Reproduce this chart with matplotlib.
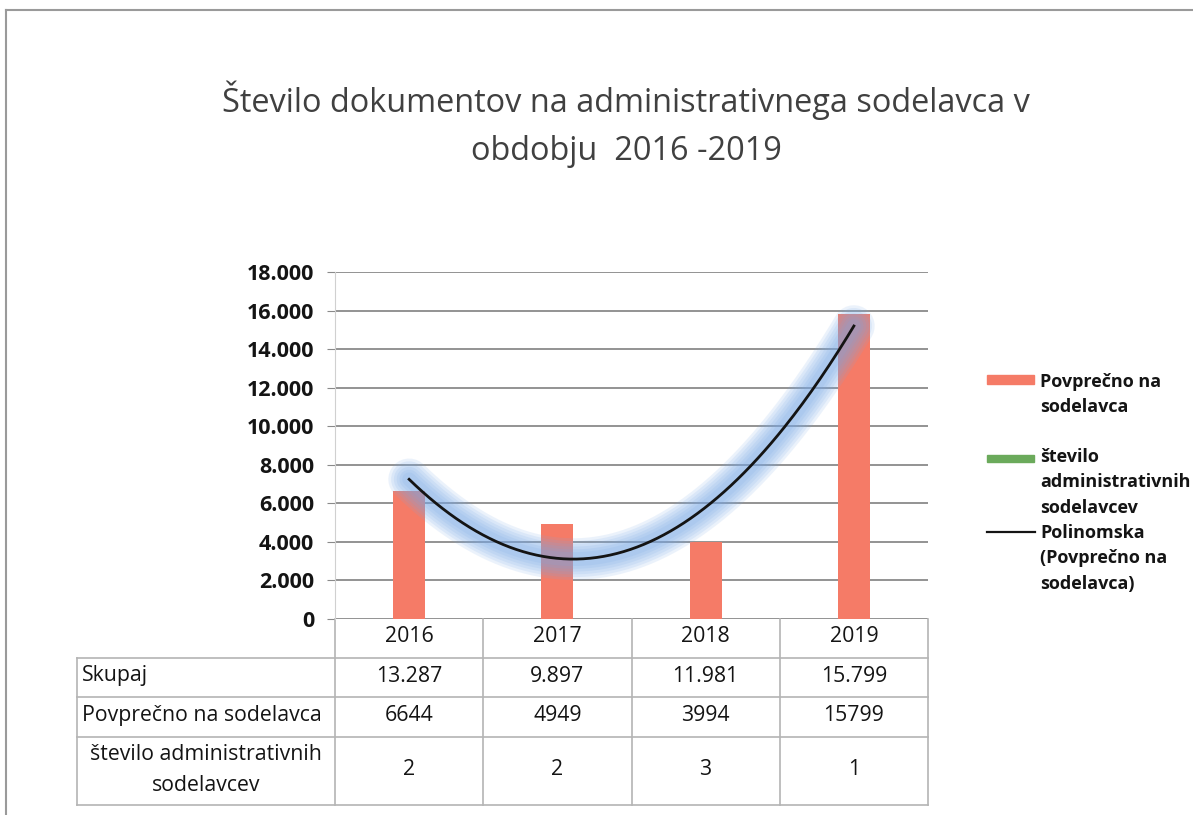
import numpy as np
import matplotlib
matplotlib.use("Agg")
import matplotlib.pyplot as plt
import matplotlib.transforms as mtransforms
from matplotlib.lines import Line2D
from matplotlib.patches import Rectangle

plt.rcParams['font.family'] = ['Open Sans', 'DejaVu Sans']

# data
years = ['2016', '2017', '2018', '2019']
skupaj = ['13.287', '9.897', '11.981', '15.799']
povprecno = [6644, 4949, 3994, 15799]
stevilo = [2, 2, 3, 1]
row_labels = ['Skupaj', 'Povprečno na sodelavca', 'število administrativnih', 'sodelavcev']
legend_1 = ['Povprečno na', 'sodelavca']
legend_2 = ['število', 'administrativnih', 'sodelavcev']
legend_3 = ['Polinomska', '(Povprečno na', 'sodelavca)']
title_lines = ['Število dokumentov na administrativnega sodelavca v', 'obdobju  2016 -2019']

salmon = '#F57B67'
green = '#6BAA5B'
grid_col = '#8a8a8a'
table_col = '#b4b4b4'
txt = '#141414'

W, H = 1193, 815
fig = plt.figure(figsize=(W / 100, H / 100), dpi=100)
ax = fig.add_axes([335 / W, 1 - 619 / H, 593 / W, 347 / H])


def fy(py):
    # pixel row -> figure fraction
    return 1 - py / H


x = np.arange(len(years))
bw = 0.215
ax.bar(x, povprecno, width=bw, color=salmon, zorder=2)
ax.bar(x + bw, stevilo, width=bw, color=green, zorder=2)

# polynomial trendline (order 2) with soft blue glow
coef = np.polyfit(x, povprecno, 2)
xs = np.linspace(0, 3, 200)
ys = np.polyval(coef, xs)
for lw in [30, 26, 22, 18, 14, 10]:
    ax.plot(xs, ys, color='#78a9e6', lw=lw, alpha=0.14, solid_capstyle='round', zorder=3)
ax.plot(xs, ys, color=txt, lw=2, zorder=4)

ax.set_xlim(-0.5, 3.5)
ax.set_ylim(0, 18000)
ticks = np.arange(0, 18001, 2000)
ax.set_yticks(ticks)
ax.set_yticklabels([f"{v:,.0f}".replace(',', '.') for v in ticks],
                   fontsize=15.5, fontweight='bold', color=txt)
ax.tick_params(axis='y', length=6, color=grid_col, pad=9)
ax.set_xticks([])
ax.grid(axis='y', color=grid_col, lw=1.3, zorder=0)
ax.set_axisbelow(True)
for s in ['top', 'right', 'bottom']:
    ax.spines[s].set_visible(False)
ax.spines['left'].set_color('#d0d0d0')


# data table under the plot
def ry(py):
    return (619 - py) / 347


trans = mtransforms.blended_transform_factory(ax.transData, ax.transAxes)
x_left = -0.5 + (77 - 335) / 593 * 4
lk = dict(transform=trans, color=table_col, lw=1.2, clip_on=False)
for b in np.arange(-0.5, 4, 1.0):
    ax.plot([b, b], [ry(619), ry(805)], **lk)
ax.plot([x_left, x_left], [ry(658), ry(805)], **lk)
for py in [658, 697, 737, 805]:
    ax.plot([x_left, 3.5], [ry(py), ry(py)], **lk)

tk = dict(transform=trans, fontsize=15.3, color=txt, ha='center', va='center')
for i, yr in enumerate(years):
    ax.text(i, ry(637), yr, **tk)
    ax.text(i, ry(676), skupaj[i], **tk)
    ax.text(i, ry(716), str(povprecno[i]), **tk)
    ax.text(i, ry(770), str(stevilo[i]), **tk)
lab = dict(transform=trans, fontsize=15.3, color=txt, va='center')
ax.text(x_left + 0.035, ry(676), row_labels[0], ha='left', **lab)
ax.text(x_left + 0.035, ry(716), row_labels[1], ha='left', **lab)
ax.text((x_left - 0.5) / 2, ry(755), row_labels[2], ha='center', **lab)
ax.text((x_left - 0.5) / 2, ry(786), row_labels[3], ha='center', **lab)

# legend
fig.patches.append(Rectangle((987 / W, fy(384)), 47 / W, 9 / H, color=salmon,
                             transform=fig.transFigure))
fig.patches.append(Rectangle((987 / W, fy(462)), 47 / W, 7 / H, color=green,
                             transform=fig.transFigure))
fig.add_artist(Line2D([987 / W, 1035 / W], [fy(532), fy(532)], color=txt,
                      lw=1.6, transform=fig.transFigure))
lg = dict(fontsize=13, fontweight='bold', color=txt, ha='left', va='baseline')
for line, py in zip(legend_1, [387, 412]):
    fig.text(1040 / W, fy(py), line, **lg)
for line, py in zip(legend_2 + legend_3, [462, 487, 513, 538, 563, 589]):
    fig.text(1040 / W, fy(py), line, **lg)

# title
for line, py in zip(title_lines, [112, 160]):
    fig.text(626 / W, fy(py), line, fontsize=23.4, color='#404040', ha='center', va='baseline')

# outer frame of the chart
fig.add_artist(Line2D([6 / W, 1], [fy(10), fy(10)], color='#9a9a9a', lw=1.5,
                      transform=fig.transFigure))
fig.add_artist(Line2D([6 / W, 6 / W], [0, fy(10)], color='#9a9a9a', lw=1.5,
                      transform=fig.transFigure))

fig.savefig('out.png', dpi=100)
